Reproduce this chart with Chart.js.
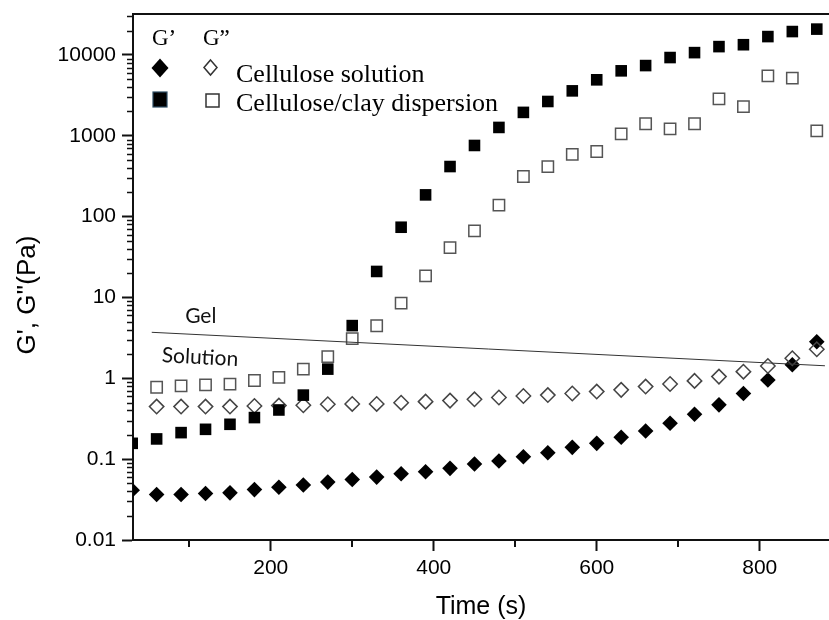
<!DOCTYPE html>
<html>
<head>
<meta charset="utf-8">
<script src="https://cdn.jsdelivr.net/npm/chart.js@4/dist/chart.umd.min.js"></script>
<style>
  html, body { margin: 0; padding: 0; background: #fff; }
  canvas { display: block; }
</style>
</head>
<body>
<canvas id="c" width="829" height="620"></canvas>
<script>
// ---- data ----
const times = [30,60,90,120,150,180,210,240,270,300,330,360,390,420,450,480,510,540,570,600,630,660,690,720,750,780,810,840,870];

const gPrimeSolution = [0.0414,0.0365,0.0365,0.0376,0.0383,0.042,0.045,0.048,0.052,0.056,0.060,0.066,0.070,0.077,0.087,0.095,0.107,0.120,0.140,0.157,0.187,0.223,0.278,0.36,0.47,0.65,0.955,1.47,2.84];
const gDoublePrimeSolution = [null,0.447,0.447,0.447,0.447,0.455,0.46,0.465,0.478,0.482,0.482,0.50,0.515,0.53,0.55,0.58,0.605,0.62,0.65,0.685,0.72,0.79,0.85,0.93,1.05,1.21,1.42,1.77,2.29];
const gPrimeClay = [0.157,0.178,0.213,0.234,0.27,0.327,0.406,0.62,1.30,4.49,21,74,186,417,760,1270,1950,2660,3600,4930,6370,7400,9300,10700,12700,13400,16900,19500,20900];
const gDoublePrimeClay = [null,0.776,0.805,0.83,0.85,0.94,1.03,1.30,1.86,3.1,4.47,8.5,18.5,41.5,66.7,139,314,417,590,640,1060,1410,1220,1410,2870,2300,5530,5180,1150];

// gel / solution boundary line (two end points)
const boundaryX = [54, 880];
const boundaryY = [3.71, 1.43];

const xTicks = [200,400,600,800];
const xMinorTicks = [100,300,500,700];
const yTicks = [0.01,0.1,1,10,100,1000,10000];
const yTickLabels = ['0.01','0.1','1','10','100','1000','10000'];

const xTitle = 'Time (s)';
const yTitle = 'G\', G\'\'(Pa)';
const legendHeader = ['G\u2019', 'G\u201D'];
const seriesNames = ['Cellulose solution', 'Cellulose/clay dispersion'];
const regionLabels = ['Gel', 'Solution'];
const regionLabelPos = [{x: 95, y: 4.84}, {x: 66, y: 1.59}];

function pts(arr) {
  return times.map((t, i) => ({x: t, y: arr[i]})).filter(p => p.y !== null);
}

const SANS = '"Liberation Sans", Arial, sans-serif';
const SERIF = '"Liberation Serif", "Times New Roman", serif';
const LABEL = 'Lato, "Open Sans", sans-serif';

Chart.defaults.color = '#000';

function noPad(s) {
  s.paddingLeft = 0; s.paddingRight = 0; s.paddingTop = 0; s.paddingBottom = 0;
}

const extras = {
  id: 'extras',
  afterDraw(chart) {
    const ctx = chart.ctx;
    const ca = chart.chartArea;
    const xs = chart.scales.x, ys = chart.scales.y;
    ctx.save();
    // top frame line
    ctx.strokeStyle = '#111';
    ctx.lineWidth = 2;
    ctx.beginPath();
    ctx.moveTo(ca.left, ca.top);
    ctx.lineTo(ca.right, ca.top);
    ctx.stroke();

    // minor ticks on y
    ctx.lineWidth = 1.5;
    ctx.strokeStyle = '#111';
    for (let d = -2; d <= 4; d++) {
      for (let k = 2; k <= 9; k++) {
        const v = k * Math.pow(10, d);
        if (v > ys.max) continue;
        const py = Math.round(ys.getPixelForValue(v)) + 0.5;
        ctx.beginPath();
        ctx.moveTo(ca.left - 6, py);
        ctx.lineTo(ca.left, py);
        ctx.stroke();
      }
    }
    // minor ticks on x
    ctx.lineWidth = 2;
    xMinorTicks.forEach(v => {
      const px = Math.round(xs.getPixelForValue(v));
      ctx.beginPath();
      ctx.moveTo(px, ca.bottom);
      ctx.lineTo(px, ca.bottom + 7);
      ctx.stroke();
    });

    // y title
    ctx.fillStyle = '#000';
    ctx.font = '26px ' + SANS;
    ctx.textAlign = 'center';
    ctx.textBaseline = 'middle';
    ctx.save();
    ctx.translate(28, 295);
    ctx.rotate(-Math.PI / 2);
    ctx.fillText(yTitle, 0, 0);
    ctx.restore();

    // region labels
    ctx.font = '21px ' + LABEL;
    ctx.textAlign = 'left';
    ctx.textBaseline = 'alphabetic';
    ctx.fillStyle = '#111';
    const g = regionLabelPos[0];
    ctx.fillText(regionLabels[0], xs.getPixelForValue(g.x), ys.getPixelForValue(g.y));
    const s = regionLabelPos[1];
    ctx.save();
    ctx.translate(xs.getPixelForValue(s.x), ys.getPixelForValue(s.y));
    ctx.rotate(3 * Math.PI / 180);
    ctx.fillText(regionLabels[1], 0, 0);
    ctx.restore();

    // legend
    const L = ca.left, T = ca.top;
    ctx.fillStyle = '#000';
    ctx.font = '23px ' + SERIF;
    ctx.fillText(legendHeader[0], L + 19, T + 31);
    ctx.fillText(legendHeader[1], L + 70, T + 31);
    // filled diamond
    let cx = L + 27, cy = T + 54;
    ctx.beginPath();
    ctx.moveTo(cx, cy - 9.5); ctx.lineTo(cx + 8.5, cy); ctx.lineTo(cx, cy + 9.5); ctx.lineTo(cx - 8.5, cy); ctx.closePath();
    ctx.fill();
    // open diamond
    cx = L + 77.5; cy = T + 53.5;
    ctx.strokeStyle = '#333'; ctx.lineWidth = 1.5;
    ctx.beginPath();
    ctx.moveTo(cx, cy - 7.5); ctx.lineTo(cx + 6.5, cy); ctx.lineTo(cx, cy + 7.5); ctx.lineTo(cx - 6.5, cy); ctx.closePath();
    ctx.stroke();
    // filled square
    ctx.fillStyle = '#000';
    ctx.fillRect(L + 20, T + 78, 14, 15);
    ctx.strokeStyle = '#2c4c63'; ctx.lineWidth = 1.2;
    ctx.strokeRect(L + 20, T + 78, 14, 15);
    // open square
    ctx.strokeStyle = '#333'; ctx.lineWidth = 1.5;
    ctx.strokeRect(L + 73, T + 80, 13, 13);
    // names
    ctx.fillStyle = '#000';
    ctx.font = '26px ' + SERIF;
    ctx.fillText(seriesNames[0], L + 103, T + 68);
    ctx.fillText(seriesNames[1], L + 103, T + 97);
    ctx.restore();
  }
};

new Chart(document.getElementById('c'), {
  type: 'scatter',
  data: {
    datasets: [
      {
        label: 'boundary',
        data: boundaryX.map((x, i) => ({x, y: boundaryY[i]})),
        showLine: true,
        borderColor: '#333',
        borderWidth: 1,
        pointRadius: 0,
        fill: false
      },
      {
        label: 'G\'\' ' + seriesNames[1],
        data: pts(gDoublePrimeClay),
        pointStyle: 'rect',
        pointRadius: 8,
        backgroundColor: 'rgba(0,0,0,0)',
        borderColor: '#555',
        borderWidth: 1.5
      },
      {
        label: 'G\' ' + seriesNames[1],
        data: pts(gPrimeClay),
        pointStyle: 'rect',
        pointRadius: 8.2,
        backgroundColor: '#000',
        borderColor: '#000',
        borderWidth: 0
      },
      {
        label: 'G\'\' ' + seriesNames[0],
        data: pts(gDoublePrimeSolution),
        pointStyle: 'rectRot',
        pointRadius: 7.2,
        backgroundColor: 'rgba(0,0,0,0)',
        borderColor: '#444',
        borderWidth: 1.5
      },
      {
        label: 'G\' ' + seriesNames[0],
        data: pts(gPrimeSolution),
        pointStyle: 'rectRot',
        pointRadius: 7.8,
        backgroundColor: '#000',
        borderColor: '#000',
        borderWidth: 0
      }
    ]
  },
  options: {
    responsive: false,
    animation: false,
    devicePixelRatio: 1,
    layout: { autoPadding: false, padding: { left: 0, top: 14, right: 0, bottom: 0 } },
    plugins: { legend: { display: false }, tooltip: { enabled: false } },
    scales: {
      x: {
        type: 'linear',
        min: 31,
        max: 885,
        border: { display: true, color: '#111', width: 2 },
        grid: { drawOnChartArea: false, drawTicks: true, tickLength: 11, tickWidth: 2, tickColor: '#111' },
        ticks: { font: { family: SANS, size: 21 }, padding: 5, color: '#000', maxRotation: 0, autoSkip: false },
        afterBuildTicks: s => { s.ticks = xTicks.map(v => ({value: v})); },
        afterFit: s => { s.height = 80; noPad(s); },
        title: { display: true, text: xTitle, font: { family: SANS, size: 25, lineHeight: 1 }, padding: 0, color: '#000' }
      },
      y: {
        type: 'logarithmic',
        min: 0.01,
        max: 32150,
        border: { display: true, color: '#111', width: 2 },
        grid: { drawOnChartArea: false, drawTicks: true, tickLength: 11, tickWidth: 2, tickColor: '#111' },
        ticks: {
          font: { family: SANS, size: 21 }, padding: 6, color: '#000', autoSkip: false,
          callback: (v) => { const i = yTicks.indexOf(v); return i >= 0 ? yTickLabels[i] : ''; }
        },
        afterBuildTicks: s => { s.ticks = yTicks.map(v => ({value: v})); },
        afterFit: s => { s.width = 133; noPad(s); }
      }
    }
  },
  plugins: [extras]
});
</script>
</body>
</html>
